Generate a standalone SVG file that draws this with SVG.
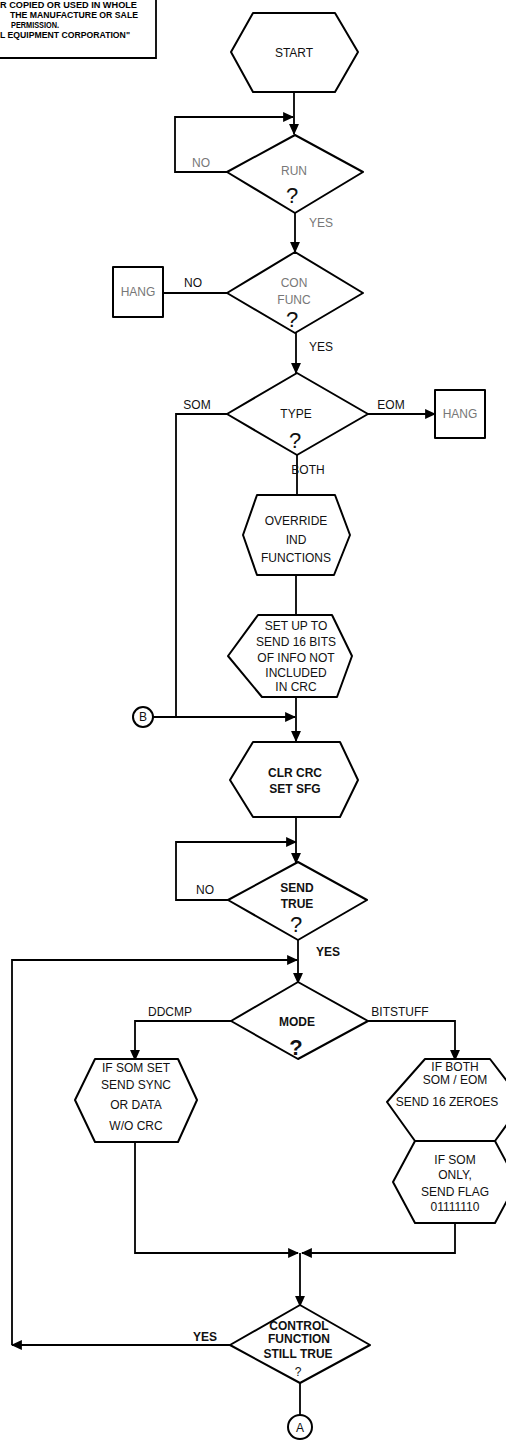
<svg xmlns="http://www.w3.org/2000/svg" width="506" height="1448" viewBox="0 0 506 1448">
<style>
.s{fill:#fff;stroke:#000;stroke-width:2;stroke-linejoin:round}
.c{fill:none;stroke:#000;stroke-width:1.8}
.t{font-family:"Liberation Sans","DejaVu Sans",sans-serif;font-size:12px;fill:#111;text-anchor:middle}
.b{font-weight:bold}
.f{fill:#777}
.q{font-size:22px}
.n{font-family:"Liberation Sans","DejaVu Sans",sans-serif;font-size:8.5px;font-weight:bold;fill:#000}
</style>
<defs>
<marker id="ah" viewBox="0 0 10 10" refX="9" refY="5" markerWidth="11" markerHeight="11" orient="auto" markerUnits="userSpaceOnUse"><path d="M0,0.5 L10,5 L0,9.5 z" fill="#000"/></marker>
</defs>
<g id="notice">
<text class="n" x="0" y="8" textLength="137" lengthAdjust="spacingAndGlyphs">R COPIED OR USED IN WHOLE</text>
<text class="n" x="10" y="18" textLength="128" lengthAdjust="spacingAndGlyphs">THE MANUFACTURE OR SALE</text>
<text class="n" x="11" y="28" textLength="48" lengthAdjust="spacingAndGlyphs">PERMISSION.</text>
<text class="n" x="0" y="38" textLength="130" lengthAdjust="spacingAndGlyphs">L EQUIPMENT CORPORATION"</text>
<path class="c" d="M0,58 L156,58 L156,0"/>
</g>
<g id="connectors">
<path class="c" d="M294,92 L294,134" marker-end="url(#ah)"/>
<path class="c" d="M227,172 L175,172 L175,117 L293,117" marker-end="url(#ah)"/>
<path class="c" d="M295,213 L295,252" marker-end="url(#ah)"/>
<path class="c" d="M227,293 L163,293"/>
<path class="c" d="M296,333 L296,373" marker-end="url(#ah)"/>
<path class="c" d="M227,414 L176,414 L176,717"/>
<path class="c" d="M368,414 L435,414" marker-end="url(#ah)"/>
<path class="c" d="M297,455 L297,495"/>
<path class="c" d="M296,575 L296,615"/>
<path class="c" d="M296,697 L296,741" marker-end="url(#ah)"/>
<path class="c" d="M153,717 L295,717" marker-end="url(#ah)"/>
<path class="c" d="M296,817 L296,863" marker-end="url(#ah)"/>
<path class="c" d="M228,900 L176,900 L176,842 L296,842" marker-end="url(#ah)"/>
<path class="c" d="M298,940 L298,983" marker-end="url(#ah)"/>
<path class="c" d="M231,1021 L135,1021 L135,1060" marker-end="url(#ah)"/>
<path class="c" d="M368,1021 L455,1021 L455,1060" marker-end="url(#ah)"/>
<path class="c" d="M135,1142 L135,1253 L298,1253" marker-end="url(#ah)"/>
<path class="c" d="M455,1223 L455,1253 L302,1253" marker-end="url(#ah)"/>
<path class="c" d="M300,1253 L300,1306" marker-end="url(#ah)"/>
<path class="c" d="M230,1345 L12,1345" marker-end="url(#ah)"/>
<path class="c" d="M12,1345 L12,960 L297,960" marker-end="url(#ah)"/>
<path class="c" d="M300,1383 L300,1415"/>
</g>
<g id="start">
<polygon class="s" points="231,52 253,13 335,13 358,52 335,92 253,92"/>
<text class="t" x="294" y="57">START</text>
</g>
<g id="test1">
<polygon class="s" points="295,135 363,172 295,213 227,172"/>
<text class="t f" x="294" y="175" font-size="10">RUN</text>
<text class="t q" x="292" y="203">?</text>
<text class="t f" x="201" y="167">NO</text>
<text class="t f" x="321" y="227" font-size="11">YES</text>
</g>
<g id="confunc">
<polygon class="s" points="295,252 363,293 295,333 227,293"/>
<text class="t f" x="294" y="287" font-size="11">CON</text>
<text class="t f" x="294" y="304" font-size="11">FUNC</text>
<text class="t q" x="292" y="327">?</text>
<text class="t" x="193" y="287" font-size="11">NO</text>
<text class="t" x="321" y="351" font-size="11">YES</text>
</g>
<g id="hang1">
<rect class="s" x="113" y="267" width="50" height="50" stroke-width="1.6"/>
<text class="t f" x="138" y="296" font-size="9">HANG</text>
</g>
<g id="type">
<polygon class="s" points="297,373 368,414 297,455 227,414"/>
<text class="t" x="296" y="418">TYPE</text>
<text class="t q" x="295" y="448">?</text>
<text class="t" x="197" y="409">SOM</text>
<text class="t" x="391" y="409">EOM</text>
<text class="t" x="308" y="474">BOTH</text>
</g>
<g id="hang2">
<rect class="s" x="435" y="390" width="50" height="48" stroke-width="1.6"/>
<text class="t f" x="460" y="418" font-size="9">HANG</text>
</g>
<g id="override">
<polygon class="s" points="243,535 257,495 335,495 350,535 334,575 257,575"/>
<text class="t" x="296" y="525" font-size="11.5">OVERRIDE</text>
<text class="t" x="296" y="544" font-size="11.5">IND</text>
<text class="t" x="296" y="562" font-size="11.5">FUNCTIONS</text>
</g>
<g id="setup">
<polygon class="s" points="228,656 258,615 332,615 352,656 337,697 262,697"/>
<text class="t" x="296" y="630" font-size="11">SET UP TO</text>
<text class="t" x="296" y="646" font-size="11">SEND 16 BITS</text>
<text class="t" x="296" y="662" font-size="11">OF INFO NOT</text>
<text class="t" x="296" y="677" font-size="11">INCLUDED</text>
<text class="t" x="296" y="691" font-size="11">IN CRC</text>
</g>
<g id="conB">
<circle class="s" cx="143" cy="717" r="10" stroke-width="1.6"/>
<text class="t" x="143" y="721" font-size="11">B</text>
</g>
<g id="clrcrc">
<polygon class="s" points="230,780 253,742 340,742 358,780 340,817 253,817"/>
<text class="t b" x="295" y="777">CLR CRC</text>
<text class="t b" x="295" y="793">SET SFG</text>
</g>
<g id="sendtrue">
<polygon class="s" points="298,862 367,900 298,940 228,900"/>
<text class="t b" x="297" y="892">SEND</text>
<text class="t b" x="297" y="908">TRUE</text>
<text class="t q" x="296" y="932">?</text>
<text class="t" x="205" y="894">NO</text>
<text class="t b" x="328" y="956">YES</text>
</g>
<g id="mode">
<polygon class="s" points="298,982 368,1021 298,1059 231,1021"/>
<text class="t b" x="297" y="1026">MODE</text>
<text class="t q b" x="296" y="1055">?</text>
<text class="t" x="170" y="1016">DDCMP</text>
<text class="t" x="400" y="1016">BITSTUFF</text>
</g>
<g id="ddcmp">
<polygon class="s" points="75,1100 95,1059 178,1059 197,1100 178,1142 95,1142"/>
<text class="t" x="136" y="1072" font-size="11.5">IF SOM SET</text>
<text class="t" x="136" y="1089" font-size="11.5">SEND SYNC</text>
<text class="t" x="136" y="1109" font-size="11.5">OR DATA</text>
<text class="t" x="136" y="1130" font-size="11.5">W/O CRC</text>
</g>
<g id="bitstuff1">
<polygon class="s" points="387,1102 425,1059 490,1059 523,1102 495,1141 415,1141"/>
<text class="t" x="455" y="1071" font-size="11.5">IF BOTH</text>
<text class="t" x="455" y="1084" font-size="11.5">SOM / EOM</text>
<text class="t" x="447" y="1106" font-size="11.5">SEND 16 ZEROES</text>
</g>
<g id="bitstuff2">
<polygon class="s" points="393,1182 415,1141 495,1141 517,1182 495,1223 415,1223"/>
<text class="t" x="455" y="1164" font-size="11.5">IF SOM</text>
<text class="t" x="455" y="1179" font-size="11.5">ONLY,</text>
<text class="t" x="455" y="1196" font-size="11.5">SEND FLAG</text>
<text class="t" x="455" y="1211" font-size="11.5">01111110</text>
</g>
<g id="control">
<polygon class="s" points="300,1305 370,1345 300,1383 230,1345"/>
<text class="t b" x="299" y="1330" font-size="10.5">CONTROL</text>
<text class="t b" x="299" y="1343" font-size="10.5">FUNCTION</text>
<text class="t b" x="298" y="1358" font-size="10.5">STILL TRUE</text>
<text class="t" x="298" y="1376" font-size="13">?</text>
<text class="t b" x="205" y="1341">YES</text>
</g>
<g id="conA">
<circle class="s" cx="300" cy="1427" r="12" stroke-width="1.6"/>
<text class="t" x="300" y="1432" font-size="13">A</text>
</g>
</svg>
